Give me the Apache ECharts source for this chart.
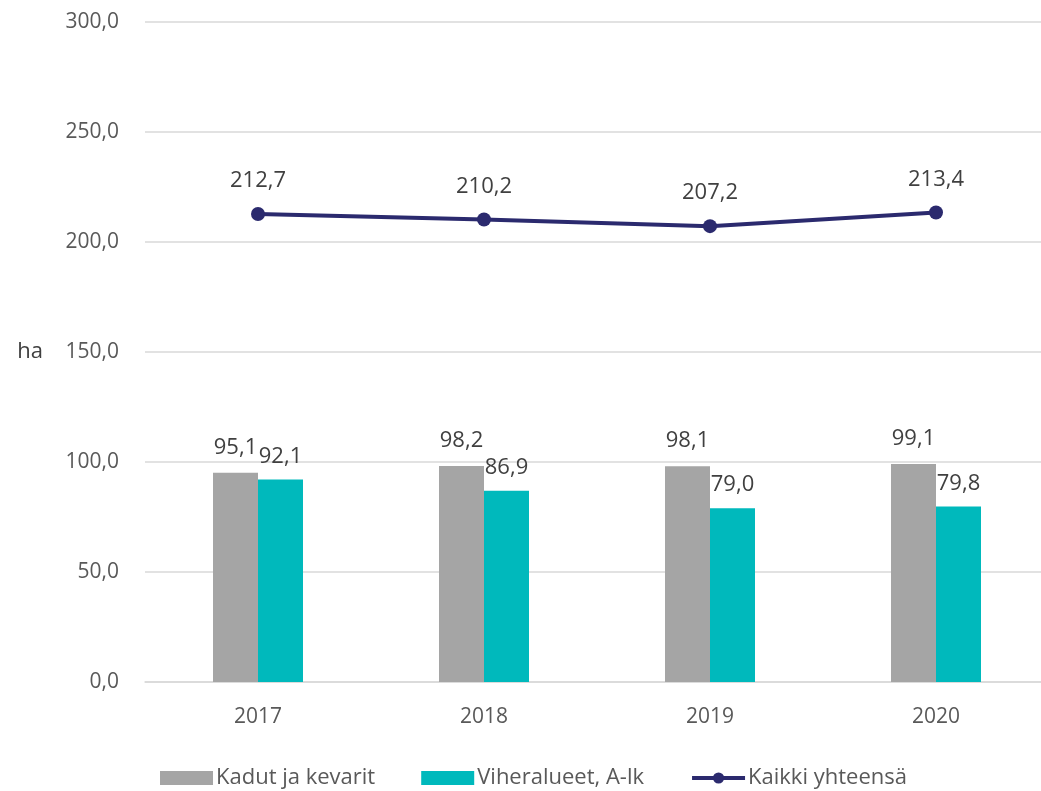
<!DOCTYPE html>
<html>
<head>
<meta charset="utf-8">
<script src="https://cdn.jsdelivr.net/npm/echarts@6/dist/echarts.min.js"></script>
<style>
  html, body { margin: 0; padding: 0; background: #fff; overflow: hidden; }
  #main { width: 1049px; height: 791px; }
</style>
</head>
<body>
<div id="main"></div>
<script>
const years = ['2017', '2018', '2019', '2020'];
const kadut = [95.1, 98.2, 98.1, 99.1];
const viher = [92.1, 86.9, 79.0, 79.8];
const kaikki = [212.7, 210.2, 207.2, 213.4];

const fmt = v => v.toFixed(1).replace('.', ',');
const font = '"Open Sans", "Noto Sans", sans-serif';

// plot runs a little past the right edge of the window, like the original
let myChart = echarts.init(document.getElementById('main'));
myChart.setOption({
  animation: false,
  textStyle: { fontFamily: font },
  grid: { left: 145, top: 22, right: 0, bottom: 109 },
  legend: {
    top: 762,
    left: 155,
    itemWidth: 53,
    itemHeight: 14,
    itemGap: 46,
    textStyle: { fontSize: 22, color: '#595959', fontFamily: font, padding: [0, 0, 0, -2] },
    data: [
      { name: 'Kadut ja kevarit', icon: 'rect' },
      { name: 'Viheralueet, A-lk', icon: 'rect' },
      { name: 'Kaikki yhteensä', lineStyle: { width: 4 } }
    ]
  },
  xAxis: {
    type: 'category',
    data: years,
    axisTick: { show: false },
    axisLine: { lineStyle: { color: '#d9d9d9', width: 1.5 } },
    axisLabel: { color: '#595959', fontSize: 21, margin: 25 }
  },
  yAxis: {
    type: 'value',
    min: 0,
    max: 300,
    interval: 50,
    name: 'ha',
    nameLocation: 'middle',
    nameRotate: 0,
    nameGap: 102,
    nameTextStyle: { color: '#404040', fontSize: 22 },
    axisLabel: { color: '#595959', fontSize: 21, margin: 26, formatter: v => fmt(v) },
    splitLine: { lineStyle: { color: '#d9d9d9', width: 1.5 } }
  },
  series: [
    {
      name: 'Kadut ja kevarit',
      type: 'bar',
      data: kadut,
      barWidth: 45,
      barGap: '0%',
      itemStyle: { color: '#A5A5A5' },
      label: { show: true, position: 'top', distance: 14, color: '#404040', fontSize: 22, formatter: p => fmt(p.value) }
    },
    {
      name: 'Viheralueet, A-lk',
      type: 'bar',
      data: viher,
      barWidth: 45,
      barGap: '0%',
      itemStyle: { color: '#00B9BC' },
      label: { show: true, position: 'top', distance: 12, color: '#404040', fontSize: 22, formatter: p => fmt(p.value) }
    },
    {
      name: 'Kaikki yhteensä',
      type: 'line',
      data: kaikki,
      symbol: 'circle',
      symbolSize: 14,
      lineStyle: { color: '#2B2A6E', width: 4 },
      itemStyle: { color: '#2B2A6E' },
      label: { show: true, position: 'top', distance: 15, color: '#404040', fontSize: 22, formatter: p => fmt(p.value) }
    }
  ]
});
</script>
</body>
</html>
